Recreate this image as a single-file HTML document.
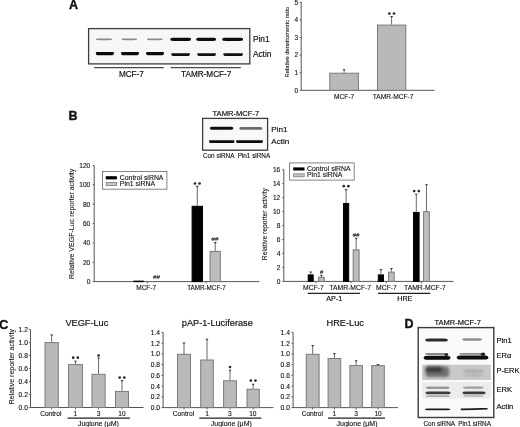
<!DOCTYPE html>
<html><head><meta charset="utf-8"><style>
html,body{margin:0;padding:0;background:#fff;overflow:hidden;}
svg{display:block;filter:grayscale(1) blur(0.3px);}
text{font-family:"Liberation Sans",sans-serif;}
</style></head><body>
<svg width="520" height="427" viewBox="0 0 520 427">
<defs>
<filter id="b4" x="-20%" y="-100%" width="140%" height="300%"><feGaussianBlur stdDeviation="0.4"/></filter>
<filter id="b6" x="-20%" y="-100%" width="140%" height="300%"><feGaussianBlur stdDeviation="0.6"/></filter>
<filter id="b1" x="-20%" y="-100%" width="140%" height="300%"><feGaussianBlur stdDeviation="1"/></filter>
<filter id="b15" x="-30%" y="-100%" width="160%" height="300%"><feGaussianBlur stdDeviation="1.6"/></filter>
</defs>
<rect x="0" y="0" width="520" height="427" fill="#fff"/>
<text x="69.00" y="8.77" font-size="12.5" text-anchor="start" font-weight="bold" fill="#111" stroke="#111" stroke-width="0.35">A</text>
<rect x="88.60" y="28.60" width="161.20" height="35.30" fill="#f7f7f7" stroke="#3d3d3d" stroke-width="1.3"/>
<path d="M96.00 39.30 C96.00 38.45 97.28 38.45 99.20 38.45 L108.80 38.45 C110.72 38.45 112.00 38.45 112.00 39.30 C112.00 40.15 110.72 40.15 108.80 40.15 L99.20 40.15 C97.28 40.15 96.00 40.15 96.00 39.30Z" fill="#8a8a8a"/>
<path d="M121.60 39.30 C121.60 38.45 122.88 38.45 124.80 38.45 L133.80 38.45 C135.72 38.45 137.00 38.45 137.00 39.30 C137.00 40.15 135.72 40.15 133.80 40.15 L124.80 40.15 C122.88 40.15 121.60 40.15 121.60 39.30Z" fill="#8a8a8a"/>
<path d="M147.00 39.30 C147.00 38.45 148.28 38.45 150.20 38.45 L159.40 38.45 C161.32 38.45 162.60 38.45 162.60 39.30 C162.60 40.15 161.32 40.15 159.40 40.15 L150.20 40.15 C148.28 40.15 147.00 40.15 147.00 39.30Z" fill="#8a8a8a"/>
<path d="M170.40 39.30 C170.40 37.70 171.68 37.70 173.60 37.70 L187.80 37.70 C189.72 37.70 191.00 37.70 191.00 39.30 C191.00 40.90 189.72 40.90 187.80 40.90 L173.60 40.90 C171.68 40.90 170.40 40.90 170.40 39.30Z" fill="#0c0c0c"/>
<path d="M196.30 39.30 C196.30 37.70 197.58 37.70 199.50 37.70 L212.80 37.70 C214.72 37.70 216.00 37.70 216.00 39.30 C216.00 40.90 214.72 40.90 212.80 40.90 L199.50 40.90 C197.58 40.90 196.30 40.90 196.30 39.30Z" fill="#0c0c0c"/>
<path d="M222.30 39.30 C222.30 37.70 223.58 37.70 225.50 37.70 L239.80 37.70 C241.72 37.70 243.00 37.70 243.00 39.30 C243.00 40.90 241.72 40.90 239.80 40.90 L225.50 40.90 C223.58 40.90 222.30 40.90 222.30 39.30Z" fill="#0c0c0c"/>
<path d="M95.80 52.70 C95.80 52.05 97.08 52.05 99.00 52.05 L110.80 52.05 C112.72 52.05 114.00 52.05 114.00 52.70 C114.00 55.15 112.72 55.15 110.80 55.15 L99.00 55.15 C97.08 55.15 95.80 55.15 95.80 52.70Z" fill="#0c0c0c"/>
<path d="M121.00 52.70 C121.00 52.05 122.28 52.05 124.20 52.05 L135.80 52.05 C137.72 52.05 139.00 52.05 139.00 52.70 C139.00 55.15 137.72 55.15 135.80 55.15 L124.20 55.15 C122.28 55.15 121.00 55.15 121.00 52.70Z" fill="#0c0c0c"/>
<path d="M146.00 52.70 C146.00 52.05 147.28 52.05 149.20 52.05 L160.80 52.05 C162.72 52.05 164.00 52.05 164.00 52.70 C164.00 55.15 162.72 55.15 160.80 55.15 L149.20 55.15 C147.28 55.15 146.00 55.15 146.00 52.70Z" fill="#0c0c0c"/>
<path d="M171.20 53.80 C171.20 53.20 172.48 53.20 174.40 53.20 L186.80 53.20 C188.72 53.20 190.00 53.20 190.00 53.80 C190.00 56.00 188.72 56.00 186.80 56.00 L174.40 56.00 C172.48 56.00 171.20 56.00 171.20 53.80Z" fill="#111"/>
<path d="M197.20 53.80 C197.20 53.20 198.48 53.20 200.40 53.20 L212.80 53.20 C214.72 53.20 216.00 53.20 216.00 53.80 C216.00 56.00 214.72 56.00 212.80 56.00 L200.40 56.00 C198.48 56.00 197.20 56.00 197.20 53.80Z" fill="#111"/>
<path d="M223.20 53.80 C223.20 53.20 224.48 53.20 226.40 53.20 L239.80 53.20 C241.72 53.20 243.00 53.20 243.00 53.80 C243.00 56.00 241.72 56.00 239.80 56.00 L226.40 56.00 C224.48 56.00 223.20 56.00 223.20 53.80Z" fill="#111"/>
<line x1="94.20" y1="67.60" x2="163.80" y2="67.60" stroke="#4a4a4a" stroke-width="1.1"/>
<line x1="170.60" y1="67.60" x2="240.80" y2="67.60" stroke="#4a4a4a" stroke-width="1.1"/>
<text x="131.40" y="76.74" font-size="8.2" text-anchor="middle" font-weight="normal" fill="#111" stroke="#111" stroke-width="0.18">MCF-7</text>
<text x="206.20" y="76.74" font-size="8.2" text-anchor="middle" font-weight="normal" fill="#111" stroke="#111" stroke-width="0.18">TAMR-MCF-7</text>
<text x="252.90" y="41.87" font-size="8.3" text-anchor="start" font-weight="normal" fill="#111" stroke="#111" stroke-width="0.18">Pin1</text>
<text x="252.90" y="57.27" font-size="8.3" text-anchor="start" font-weight="normal" fill="#111" stroke="#111" stroke-width="0.18">Actin</text>
<line x1="301.20" y1="1.90" x2="301.20" y2="90.30" stroke="#555" stroke-width="1"/>
<line x1="301.20" y1="90.30" x2="434.60" y2="90.30" stroke="#555" stroke-width="1"/>
<line x1="299.60" y1="90.30" x2="301.20" y2="90.30" stroke="#555" stroke-width="0.9"/>
<text x="298.20" y="92.63" font-size="6.5" text-anchor="end" font-weight="normal" fill="#111" stroke="#111" stroke-width="0.12">0</text>
<line x1="299.60" y1="72.72" x2="301.20" y2="72.72" stroke="#555" stroke-width="0.9"/>
<text x="298.20" y="75.05" font-size="6.5" text-anchor="end" font-weight="normal" fill="#111" stroke="#111" stroke-width="0.12">1</text>
<line x1="299.60" y1="55.14" x2="301.20" y2="55.14" stroke="#555" stroke-width="0.9"/>
<text x="298.20" y="57.47" font-size="6.5" text-anchor="end" font-weight="normal" fill="#111" stroke="#111" stroke-width="0.12">2</text>
<line x1="299.60" y1="37.56" x2="301.20" y2="37.56" stroke="#555" stroke-width="0.9"/>
<text x="298.20" y="39.89" font-size="6.5" text-anchor="end" font-weight="normal" fill="#111" stroke="#111" stroke-width="0.12">3</text>
<line x1="299.60" y1="19.98" x2="301.20" y2="19.98" stroke="#555" stroke-width="0.9"/>
<text x="298.20" y="22.31" font-size="6.5" text-anchor="end" font-weight="normal" fill="#111" stroke="#111" stroke-width="0.12">4</text>
<line x1="299.60" y1="2.40" x2="301.20" y2="2.40" stroke="#555" stroke-width="0.9"/>
<text x="298.20" y="4.73" font-size="6.5" text-anchor="end" font-weight="normal" fill="#111" stroke="#111" stroke-width="0.12">5</text>
<rect x="329.80" y="73.22" width="28.60" height="17.08" fill="#b9b9b9" stroke="#7a7a7a" stroke-width="1"/>
<line x1="344.10" y1="69.40" x2="344.10" y2="72.72" stroke="#444" stroke-width="0.8"/>
<path d="M342.55 68.90 L345.65 68.90 L344.50 70.40 L343.70 70.40Z" fill="#444"/>
<rect x="377.50" y="25.10" width="28.30" height="65.20" fill="#b9b9b9" stroke="#7a7a7a" stroke-width="1"/>
<line x1="391.60" y1="16.60" x2="391.60" y2="24.60" stroke="#444" stroke-width="0.8"/>
<path d="M389.80 16.10 L393.40 16.10 L392.00 17.60 L391.20 17.60Z" fill="#444"/>
<circle cx="389.40" cy="13.50" r="1.35" fill="#2a2a2a"/>
<circle cx="394.00" cy="13.50" r="1.35" fill="#2a2a2a"/>
<text x="344.00" y="98.66" font-size="6.6" text-anchor="middle" font-weight="normal" fill="#111" stroke="#111" stroke-width="0.12">MCF-7</text>
<text x="393.10" y="98.66" font-size="6.6" text-anchor="middle" font-weight="normal" fill="#111" stroke="#111" stroke-width="0.12">TAMR-MCF-7</text>
<text x="0" y="0" font-size="5.85" text-anchor="middle" fill="#111" stroke="#111" stroke-width="0.08" transform="translate(289.09,42.20) rotate(-90)">Relative densitometric ratio</text>
<text x="68.60" y="119.77" font-size="12.5" text-anchor="start" font-weight="bold" fill="#111" stroke="#111" stroke-width="0.35">B</text>
<text x="235.90" y="116.22" font-size="7.6" text-anchor="middle" font-weight="normal" fill="#111" stroke="#111" stroke-width="0.18">TAMR-MCF-7</text>
<rect x="202.60" y="118.40" width="65.00" height="31.80" fill="#f8f8f8" stroke="#3d3d3d" stroke-width="1.3"/>
<path d="M209.90 128.30 C209.90 126.80 211.18 126.80 213.10 126.80 L230.10 126.80 C232.02 126.80 233.30 126.80 233.30 128.30 C233.30 129.80 232.02 129.80 230.10 129.80 L213.10 129.80 C211.18 129.80 209.90 129.80 209.90 128.30Z" fill="#0c0c0c"/>
<path d="M239.40 128.40 C239.40 127.10 240.68 127.10 242.60 127.10 L259.10 127.10 C261.02 127.10 262.30 127.10 262.30 128.40 C262.30 129.70 261.02 129.70 259.10 129.70 L242.60 129.70 C240.68 129.70 239.40 129.70 239.40 128.40Z" fill="#6a6a6a"/>
<path d="M209.00 140.90 C209.00 140.15 210.28 140.15 212.20 140.15 L231.30 140.15 C233.22 140.15 234.50 140.15 234.50 140.90 C234.50 143.05 233.22 143.05 231.30 143.05 L212.20 143.05 C210.28 143.05 209.00 143.05 209.00 140.90Z" fill="#0c0c0c"/>
<path d="M236.00 140.90 C236.00 140.15 237.28 140.15 239.20 140.15 L259.80 140.15 C261.72 140.15 263.00 140.15 263.00 140.90 C263.00 143.05 261.72 143.05 259.80 143.05 L239.20 143.05 C237.28 143.05 236.00 143.05 236.00 140.90Z" fill="#0c0c0c"/>
<text x="271.30" y="131.90" font-size="8.1" text-anchor="start" font-weight="normal" fill="#111" stroke="#111" stroke-width="0.18">Pin1</text>
<text x="271.30" y="144.20" font-size="8.1" text-anchor="start" font-weight="normal" fill="#111" stroke="#111" stroke-width="0.18">Actin</text>
<text x="203.00" y="158.27" font-size="6.35" text-anchor="start" font-weight="normal" fill="#111" stroke="#111" stroke-width="0.12">Con siRNA</text>
<text x="237.70" y="158.27" font-size="6.35" text-anchor="start" font-weight="normal" fill="#111" stroke="#111" stroke-width="0.12">Pin1 siRNA</text>
<line x1="94.20" y1="165.40" x2="94.20" y2="281.60" stroke="#555" stroke-width="1"/>
<line x1="94.20" y1="281.60" x2="259.30" y2="281.60" stroke="#555" stroke-width="1"/>
<line x1="92.60" y1="281.60" x2="94.20" y2="281.60" stroke="#555" stroke-width="0.9"/>
<text x="90.30" y="283.96" font-size="6.6" text-anchor="end" font-weight="normal" fill="#111" stroke="#111" stroke-width="0.12">0</text>
<line x1="92.60" y1="262.23" x2="94.20" y2="262.23" stroke="#555" stroke-width="0.9"/>
<text x="90.30" y="264.60" font-size="6.6" text-anchor="end" font-weight="normal" fill="#111" stroke="#111" stroke-width="0.12">20</text>
<line x1="92.60" y1="242.87" x2="94.20" y2="242.87" stroke="#555" stroke-width="0.9"/>
<text x="90.30" y="245.23" font-size="6.6" text-anchor="end" font-weight="normal" fill="#111" stroke="#111" stroke-width="0.12">40</text>
<line x1="92.60" y1="223.50" x2="94.20" y2="223.50" stroke="#555" stroke-width="0.9"/>
<text x="90.30" y="225.86" font-size="6.6" text-anchor="end" font-weight="normal" fill="#111" stroke="#111" stroke-width="0.12">60</text>
<line x1="92.60" y1="204.13" x2="94.20" y2="204.13" stroke="#555" stroke-width="0.9"/>
<text x="90.30" y="206.50" font-size="6.6" text-anchor="end" font-weight="normal" fill="#111" stroke="#111" stroke-width="0.12">80</text>
<line x1="92.60" y1="184.77" x2="94.20" y2="184.77" stroke="#555" stroke-width="0.9"/>
<text x="90.30" y="187.13" font-size="6.6" text-anchor="end" font-weight="normal" fill="#111" stroke="#111" stroke-width="0.12">100</text>
<line x1="92.60" y1="165.40" x2="94.20" y2="165.40" stroke="#555" stroke-width="0.9"/>
<text x="90.30" y="167.76" font-size="6.6" text-anchor="end" font-weight="normal" fill="#111" stroke="#111" stroke-width="0.12">120</text>
<rect x="102.50" y="171.50" width="64.40" height="17.70" fill="#fff" stroke="#777" stroke-width="0.9"/>
<rect x="105.80" y="176.20" width="11.10" height="3.20" fill="#000" stroke="none" stroke-width="1"/>
<rect x="106.20" y="182.60" width="10.40" height="2.80" fill="#c8c8c8" stroke="#777" stroke-width="0.8"/>
<text x="119.80" y="179.67" font-size="6.9" text-anchor="start" font-weight="normal" fill="#111" stroke="#111" stroke-width="0.12">Control siRNA</text>
<text x="119.80" y="186.17" font-size="6.9" text-anchor="start" font-weight="normal" fill="#111" stroke="#111" stroke-width="0.12">Pin1 siRNA</text>
<rect x="134.00" y="281.13" width="9.30" height="0.47" fill="#000" stroke="#000" stroke-width="1"/>
<rect x="152.00" y="281.81" width="8.70" height="-0.21" fill="#bdbdbd" stroke="#777" stroke-width="1"/>
<text x="156.50" y="279.42" font-size="6.2" text-anchor="middle" font-weight="normal" fill="#333" stroke="#333" stroke-width="0.15">##</text>
<rect x="192.10" y="206.30" width="10.40" height="75.30" fill="#000" stroke="#000" stroke-width="1"/>
<line x1="197.30" y1="186.20" x2="197.30" y2="205.80" stroke="#444" stroke-width="0.8"/>
<path d="M195.50 185.70 L199.10 185.70 L197.70 187.20 L196.90 187.20Z" fill="#444"/>
<circle cx="195.00" cy="183.50" r="1.35" fill="#2a2a2a"/>
<circle cx="199.60" cy="183.50" r="1.35" fill="#2a2a2a"/>
<rect x="210.10" y="251.40" width="10.20" height="30.20" fill="#bdbdbd" stroke="#777" stroke-width="1"/>
<line x1="215.20" y1="242.50" x2="215.20" y2="250.90" stroke="#444" stroke-width="0.8"/>
<path d="M213.40 242.00 L217.00 242.00 L215.60 243.50 L214.80 243.50Z" fill="#444"/>
<text x="215.00" y="240.62" font-size="6.2" text-anchor="middle" font-weight="normal" fill="#333" stroke="#333" stroke-width="0.15">##</text>
<line x1="147.40" y1="281.60" x2="147.40" y2="283.60" stroke="#555" stroke-width="0.9"/>
<line x1="206.20" y1="281.60" x2="206.20" y2="283.60" stroke="#555" stroke-width="0.9"/>
<text x="146.20" y="290.33" font-size="6.5" text-anchor="middle" font-weight="normal" fill="#111" stroke="#111" stroke-width="0.12">MCF-7</text>
<text x="206.50" y="290.26" font-size="6.3" text-anchor="middle" font-weight="normal" fill="#111" stroke="#111" stroke-width="0.12">TAMR-MCF-7</text>
<text x="0" y="0" font-size="7.05" text-anchor="middle" fill="#111" stroke="#111" stroke-width="0.08" transform="translate(73.92,223.90) rotate(-90)">Relative VEGF-Luc reporter activity</text>
<line x1="283.80" y1="169.60" x2="283.80" y2="281.40" stroke="#555" stroke-width="1"/>
<line x1="283.80" y1="281.40" x2="453.50" y2="281.40" stroke="#555" stroke-width="1"/>
<line x1="282.20" y1="281.40" x2="283.80" y2="281.40" stroke="#555" stroke-width="0.9"/>
<text x="280.30" y="283.76" font-size="6.6" text-anchor="end" font-weight="normal" fill="#111" stroke="#111" stroke-width="0.12">0</text>
<line x1="282.20" y1="267.42" x2="283.80" y2="267.42" stroke="#555" stroke-width="0.9"/>
<text x="280.30" y="269.79" font-size="6.6" text-anchor="end" font-weight="normal" fill="#111" stroke="#111" stroke-width="0.12">2</text>
<line x1="282.20" y1="253.45" x2="283.80" y2="253.45" stroke="#555" stroke-width="0.9"/>
<text x="280.30" y="255.81" font-size="6.6" text-anchor="end" font-weight="normal" fill="#111" stroke="#111" stroke-width="0.12">4</text>
<line x1="282.20" y1="239.47" x2="283.80" y2="239.47" stroke="#555" stroke-width="0.9"/>
<text x="280.30" y="241.84" font-size="6.6" text-anchor="end" font-weight="normal" fill="#111" stroke="#111" stroke-width="0.12">6</text>
<line x1="282.20" y1="225.50" x2="283.80" y2="225.50" stroke="#555" stroke-width="0.9"/>
<text x="280.30" y="227.86" font-size="6.6" text-anchor="end" font-weight="normal" fill="#111" stroke="#111" stroke-width="0.12">8</text>
<line x1="282.20" y1="211.52" x2="283.80" y2="211.52" stroke="#555" stroke-width="0.9"/>
<text x="280.30" y="213.89" font-size="6.6" text-anchor="end" font-weight="normal" fill="#111" stroke="#111" stroke-width="0.12">10</text>
<line x1="282.20" y1="197.55" x2="283.80" y2="197.55" stroke="#555" stroke-width="0.9"/>
<text x="280.30" y="199.91" font-size="6.6" text-anchor="end" font-weight="normal" fill="#111" stroke="#111" stroke-width="0.12">12</text>
<line x1="282.20" y1="183.57" x2="283.80" y2="183.57" stroke="#555" stroke-width="0.9"/>
<text x="280.30" y="185.94" font-size="6.6" text-anchor="end" font-weight="normal" fill="#111" stroke="#111" stroke-width="0.12">14</text>
<line x1="282.20" y1="169.60" x2="283.80" y2="169.60" stroke="#555" stroke-width="0.9"/>
<text x="280.30" y="171.96" font-size="6.6" text-anchor="end" font-weight="normal" fill="#111" stroke="#111" stroke-width="0.12">16</text>
<rect x="289.60" y="162.90" width="64.60" height="17.20" fill="#fff" stroke="#777" stroke-width="0.9"/>
<rect x="293.20" y="167.40" width="11.30" height="3.10" fill="#000" stroke="none" stroke-width="1"/>
<rect x="293.60" y="173.90" width="10.60" height="2.90" fill="#c8c8c8" stroke="#777" stroke-width="0.8"/>
<text x="307.00" y="171.07" font-size="6.9" text-anchor="start" font-weight="normal" fill="#111" stroke="#111" stroke-width="0.12">Control siRNA</text>
<text x="307.00" y="177.47" font-size="6.9" text-anchor="start" font-weight="normal" fill="#111" stroke="#111" stroke-width="0.12">Pin1 siRNA</text>
<rect x="308.20" y="274.91" width="5.00" height="6.49" fill="#000" stroke="#000" stroke-width="1"/>
<line x1="310.70" y1="272.00" x2="310.70" y2="274.41" stroke="#444" stroke-width="0.8"/>
<path d="M309.10 271.50 L312.30 271.50 L311.10 273.00 L310.30 273.00Z" fill="#444"/>
<rect x="318.60" y="277.22" width="5.60" height="4.18" fill="#bdbdbd" stroke="#777" stroke-width="1"/>
<line x1="321.40" y1="275.30" x2="321.40" y2="276.72" stroke="#444" stroke-width="0.8"/>
<path d="M319.80 274.80 L323.00 274.80 L321.80 276.30 L321.00 276.30Z" fill="#444"/>
<text x="321.50" y="274.08" font-size="5.8" text-anchor="middle" font-weight="normal" fill="#333" stroke="#333" stroke-width="0.15">#</text>
<rect x="343.50" y="203.50" width="5.20" height="77.90" fill="#000" stroke="#000" stroke-width="1"/>
<line x1="346.10" y1="189.60" x2="346.10" y2="203.00" stroke="#444" stroke-width="0.8"/>
<path d="M344.50 189.10 L347.70 189.10 L346.50 190.60 L345.70 190.60Z" fill="#444"/>
<circle cx="343.80" cy="186.20" r="1.35" fill="#2a2a2a"/>
<circle cx="348.40" cy="186.20" r="1.35" fill="#2a2a2a"/>
<rect x="353.20" y="249.90" width="5.90" height="31.50" fill="#bdbdbd" stroke="#777" stroke-width="1"/>
<line x1="356.15" y1="238.30" x2="356.15" y2="249.40" stroke="#444" stroke-width="0.8"/>
<path d="M354.55 237.80 L357.75 237.80 L356.55 239.30 L355.75 239.30Z" fill="#444"/>
<text x="356.10" y="237.42" font-size="6.2" text-anchor="middle" font-weight="normal" fill="#333" stroke="#333" stroke-width="0.15">##</text>
<rect x="378.30" y="274.91" width="5.20" height="6.49" fill="#000" stroke="#000" stroke-width="1"/>
<line x1="380.90" y1="269.40" x2="380.90" y2="274.41" stroke="#444" stroke-width="0.8"/>
<path d="M379.30 268.90 L382.50 268.90 L381.30 270.40 L380.50 270.40Z" fill="#444"/>
<rect x="388.60" y="272.12" width="5.60" height="9.28" fill="#bdbdbd" stroke="#777" stroke-width="1"/>
<line x1="391.40" y1="268.40" x2="391.40" y2="271.62" stroke="#444" stroke-width="0.8"/>
<path d="M389.80 267.90 L393.00 267.90 L391.80 269.40 L391.00 269.40Z" fill="#444"/>
<rect x="413.50" y="212.40" width="5.60" height="69.00" fill="#000" stroke="#000" stroke-width="1"/>
<line x1="416.30" y1="194.20" x2="416.30" y2="211.90" stroke="#444" stroke-width="0.8"/>
<path d="M414.70 193.70 L417.90 193.70 L416.70 195.20 L415.90 195.20Z" fill="#444"/>
<circle cx="414.20" cy="191.10" r="1.35" fill="#2a2a2a"/>
<circle cx="418.80" cy="191.10" r="1.35" fill="#2a2a2a"/>
<rect x="423.60" y="211.70" width="5.70" height="69.70" fill="#bdbdbd" stroke="#777" stroke-width="1"/>
<line x1="426.45" y1="184.70" x2="426.45" y2="211.20" stroke="#444" stroke-width="0.8"/>
<path d="M424.85 184.20 L428.05 184.20 L426.85 185.70 L426.05 185.70Z" fill="#444"/>
<line x1="316.00" y1="281.40" x2="316.00" y2="283.40" stroke="#555" stroke-width="0.9"/>
<line x1="350.90" y1="281.40" x2="350.90" y2="283.40" stroke="#555" stroke-width="0.9"/>
<line x1="386.30" y1="281.40" x2="386.30" y2="283.40" stroke="#555" stroke-width="0.9"/>
<line x1="421.40" y1="281.40" x2="421.40" y2="283.40" stroke="#555" stroke-width="0.9"/>
<text x="313.50" y="290.03" font-size="6.8" text-anchor="middle" font-weight="normal" fill="#111" stroke="#111" stroke-width="0.12">MCF-7</text>
<text x="350.20" y="290.03" font-size="6.8" text-anchor="middle" font-weight="normal" fill="#111" stroke="#111" stroke-width="0.12">TAMR-MCF-7</text>
<text x="386.50" y="290.03" font-size="6.8" text-anchor="middle" font-weight="normal" fill="#111" stroke="#111" stroke-width="0.12">MCF-7</text>
<text x="424.90" y="290.03" font-size="6.8" text-anchor="middle" font-weight="normal" fill="#111" stroke="#111" stroke-width="0.12">TAMR-MCF-7</text>
<line x1="307.70" y1="293.40" x2="360.00" y2="293.40" stroke="#222" stroke-width="1.1"/>
<line x1="377.80" y1="293.40" x2="430.30" y2="293.40" stroke="#222" stroke-width="1.1"/>
<text x="334.20" y="301.18" font-size="7.2" text-anchor="middle" font-weight="normal" fill="#111" stroke="#111" stroke-width="0.18">AP-1</text>
<text x="404.80" y="301.38" font-size="7.2" text-anchor="middle" font-weight="normal" fill="#111" stroke="#111" stroke-width="0.18">HRE</text>
<text x="0" y="0" font-size="6.73" text-anchor="middle" fill="#111" stroke="#111" stroke-width="0.08" transform="translate(267.41,224.10) rotate(-90)">Relative reporter activity</text>
<text x="-1.00" y="328.65" font-size="13.0" text-anchor="start" font-weight="bold" fill="#111" stroke="#111" stroke-width="0.35">C</text>
<line x1="30.50" y1="329.40" x2="30.50" y2="407.50" stroke="#555" stroke-width="1"/>
<line x1="30.50" y1="407.50" x2="143.50" y2="407.50" stroke="#555" stroke-width="1"/>
<line x1="28.90" y1="407.50" x2="30.50" y2="407.50" stroke="#555" stroke-width="0.9"/>
<text x="27.90" y="409.90" font-size="6.7" text-anchor="end" font-weight="normal" fill="#111" stroke="#111" stroke-width="0.12">0.0</text>
<line x1="28.90" y1="394.48" x2="30.50" y2="394.48" stroke="#555" stroke-width="0.9"/>
<text x="27.90" y="396.88" font-size="6.7" text-anchor="end" font-weight="normal" fill="#111" stroke="#111" stroke-width="0.12">0.2</text>
<line x1="28.90" y1="381.47" x2="30.50" y2="381.47" stroke="#555" stroke-width="0.9"/>
<text x="27.90" y="383.87" font-size="6.7" text-anchor="end" font-weight="normal" fill="#111" stroke="#111" stroke-width="0.12">0.4</text>
<line x1="28.90" y1="368.45" x2="30.50" y2="368.45" stroke="#555" stroke-width="0.9"/>
<text x="27.90" y="370.85" font-size="6.7" text-anchor="end" font-weight="normal" fill="#111" stroke="#111" stroke-width="0.12">0.6</text>
<line x1="28.90" y1="355.43" x2="30.50" y2="355.43" stroke="#555" stroke-width="0.9"/>
<text x="27.90" y="357.83" font-size="6.7" text-anchor="end" font-weight="normal" fill="#111" stroke="#111" stroke-width="0.12">0.8</text>
<line x1="28.90" y1="342.42" x2="30.50" y2="342.42" stroke="#555" stroke-width="0.9"/>
<text x="27.90" y="344.82" font-size="6.7" text-anchor="end" font-weight="normal" fill="#111" stroke="#111" stroke-width="0.12">1.0</text>
<line x1="28.90" y1="329.40" x2="30.50" y2="329.40" stroke="#555" stroke-width="0.9"/>
<text x="27.90" y="331.80" font-size="6.7" text-anchor="end" font-weight="normal" fill="#111" stroke="#111" stroke-width="0.12">1.2</text>
<rect x="45.00" y="342.60" width="13.30" height="64.90" fill="#b9b9b9" stroke="#7a7a7a" stroke-width="1"/>
<line x1="51.65" y1="334.90" x2="51.65" y2="342.10" stroke="#444" stroke-width="0.8"/>
<path d="M50.05 334.40 L53.25 334.40 L52.05 335.90 L51.25 335.90Z" fill="#444"/>
<line x1="51.65" y1="407.50" x2="51.65" y2="409.50" stroke="#555" stroke-width="0.9"/>
<rect x="68.60" y="364.60" width="13.80" height="42.90" fill="#b9b9b9" stroke="#7a7a7a" stroke-width="1"/>
<line x1="75.50" y1="361.20" x2="75.50" y2="364.10" stroke="#444" stroke-width="0.8"/>
<path d="M73.90 360.70 L77.10 360.70 L75.90 362.20 L75.10 362.20Z" fill="#444"/>
<line x1="75.50" y1="407.50" x2="75.50" y2="409.50" stroke="#555" stroke-width="0.9"/>
<circle cx="73.20" cy="357.70" r="1.35" fill="#2a2a2a"/>
<circle cx="77.80" cy="357.70" r="1.35" fill="#2a2a2a"/>
<rect x="92.00" y="374.30" width="13.10" height="33.20" fill="#b9b9b9" stroke="#7a7a7a" stroke-width="1"/>
<line x1="98.55" y1="358.10" x2="98.55" y2="373.80" stroke="#444" stroke-width="0.8"/>
<path d="M96.95 357.60 L100.15 357.60 L98.95 359.10 L98.15 359.10Z" fill="#444"/>
<line x1="98.55" y1="407.50" x2="98.55" y2="409.50" stroke="#555" stroke-width="0.9"/>
<circle cx="98.55" cy="355.50" r="1.35" fill="#2a2a2a"/>
<rect x="115.50" y="391.40" width="13.00" height="16.10" fill="#b9b9b9" stroke="#7a7a7a" stroke-width="1"/>
<line x1="122.00" y1="380.60" x2="122.00" y2="390.90" stroke="#444" stroke-width="0.8"/>
<path d="M120.40 380.10 L123.60 380.10 L122.40 381.60 L121.60 381.60Z" fill="#444"/>
<line x1="122.00" y1="407.50" x2="122.00" y2="409.50" stroke="#555" stroke-width="0.9"/>
<circle cx="119.70" cy="377.60" r="1.35" fill="#2a2a2a"/>
<circle cx="124.30" cy="377.60" r="1.35" fill="#2a2a2a"/>
<text x="50.80" y="415.86" font-size="6.6" text-anchor="middle" font-weight="normal" fill="#111" stroke="#111" stroke-width="0.12">Control</text>
<text x="75.40" y="415.86" font-size="6.6" text-anchor="middle" font-weight="normal" fill="#111" stroke="#111" stroke-width="0.12">1</text>
<text x="98.50" y="415.86" font-size="6.6" text-anchor="middle" font-weight="normal" fill="#111" stroke="#111" stroke-width="0.12">3</text>
<text x="121.90" y="415.86" font-size="6.6" text-anchor="middle" font-weight="normal" fill="#111" stroke="#111" stroke-width="0.12">10</text>
<line x1="67.60" y1="418.10" x2="129.90" y2="418.10" stroke="#222" stroke-width="1.1"/>
<text x="98.40" y="425.91" font-size="7.0" text-anchor="middle" font-weight="normal" fill="#111" stroke="#111" stroke-width="0.12">Juglone (&#956;M)</text>
<text x="65.40" y="325.89" font-size="9.2" text-anchor="start" font-weight="normal" fill="#111" stroke="#111" stroke-width="0.18">VEGF-Luc</text>
<line x1="163.10" y1="332.50" x2="163.10" y2="407.60" stroke="#555" stroke-width="1"/>
<line x1="163.10" y1="407.60" x2="273.50" y2="407.60" stroke="#555" stroke-width="1"/>
<line x1="161.50" y1="407.60" x2="163.10" y2="407.60" stroke="#555" stroke-width="0.9"/>
<text x="160.00" y="410.00" font-size="6.7" text-anchor="end" font-weight="normal" fill="#111" stroke="#111" stroke-width="0.12">0.0</text>
<line x1="161.50" y1="396.87" x2="163.10" y2="396.87" stroke="#555" stroke-width="0.9"/>
<text x="160.00" y="399.27" font-size="6.7" text-anchor="end" font-weight="normal" fill="#111" stroke="#111" stroke-width="0.12">0.2</text>
<line x1="161.50" y1="386.14" x2="163.10" y2="386.14" stroke="#555" stroke-width="0.9"/>
<text x="160.00" y="388.54" font-size="6.7" text-anchor="end" font-weight="normal" fill="#111" stroke="#111" stroke-width="0.12">0.4</text>
<line x1="161.50" y1="375.41" x2="163.10" y2="375.41" stroke="#555" stroke-width="0.9"/>
<text x="160.00" y="377.81" font-size="6.7" text-anchor="end" font-weight="normal" fill="#111" stroke="#111" stroke-width="0.12">0.6</text>
<line x1="161.50" y1="364.69" x2="163.10" y2="364.69" stroke="#555" stroke-width="0.9"/>
<text x="160.00" y="367.08" font-size="6.7" text-anchor="end" font-weight="normal" fill="#111" stroke="#111" stroke-width="0.12">0.8</text>
<line x1="161.50" y1="353.96" x2="163.10" y2="353.96" stroke="#555" stroke-width="0.9"/>
<text x="160.00" y="356.36" font-size="6.7" text-anchor="end" font-weight="normal" fill="#111" stroke="#111" stroke-width="0.12">1.0</text>
<line x1="161.50" y1="343.23" x2="163.10" y2="343.23" stroke="#555" stroke-width="0.9"/>
<text x="160.00" y="345.63" font-size="6.7" text-anchor="end" font-weight="normal" fill="#111" stroke="#111" stroke-width="0.12">1.2</text>
<line x1="161.50" y1="332.50" x2="163.10" y2="332.50" stroke="#555" stroke-width="0.9"/>
<text x="160.00" y="334.90" font-size="6.7" text-anchor="end" font-weight="normal" fill="#111" stroke="#111" stroke-width="0.12">1.4</text>
<rect x="177.50" y="354.30" width="13.00" height="53.30" fill="#b9b9b9" stroke="#7a7a7a" stroke-width="1"/>
<line x1="184.00" y1="343.10" x2="184.00" y2="353.80" stroke="#444" stroke-width="0.8"/>
<path d="M182.40 342.60 L185.60 342.60 L184.40 344.10 L183.60 344.10Z" fill="#444"/>
<line x1="184.00" y1="407.60" x2="184.00" y2="409.60" stroke="#555" stroke-width="0.9"/>
<rect x="200.70" y="360.00" width="12.60" height="47.60" fill="#b9b9b9" stroke="#7a7a7a" stroke-width="1"/>
<line x1="207.00" y1="339.30" x2="207.00" y2="359.50" stroke="#444" stroke-width="0.8"/>
<path d="M205.40 338.80 L208.60 338.80 L207.40 340.30 L206.60 340.30Z" fill="#444"/>
<line x1="207.00" y1="407.60" x2="207.00" y2="409.60" stroke="#555" stroke-width="0.9"/>
<rect x="223.60" y="380.80" width="12.80" height="26.80" fill="#b9b9b9" stroke="#7a7a7a" stroke-width="1"/>
<line x1="230.00" y1="370.20" x2="230.00" y2="380.30" stroke="#444" stroke-width="0.8"/>
<path d="M228.40 369.70 L231.60 369.70 L230.40 371.20 L229.60 371.20Z" fill="#444"/>
<line x1="230.00" y1="407.60" x2="230.00" y2="409.60" stroke="#555" stroke-width="0.9"/>
<circle cx="230.00" cy="367.10" r="1.35" fill="#2a2a2a"/>
<rect x="247.00" y="389.20" width="12.30" height="18.40" fill="#b9b9b9" stroke="#7a7a7a" stroke-width="1"/>
<line x1="253.15" y1="384.20" x2="253.15" y2="388.70" stroke="#444" stroke-width="0.8"/>
<path d="M251.55 383.70 L254.75 383.70 L253.55 385.20 L252.75 385.20Z" fill="#444"/>
<line x1="253.15" y1="407.60" x2="253.15" y2="409.60" stroke="#555" stroke-width="0.9"/>
<circle cx="250.85" cy="380.60" r="1.35" fill="#2a2a2a"/>
<circle cx="255.45" cy="380.60" r="1.35" fill="#2a2a2a"/>
<text x="183.50" y="415.86" font-size="6.6" text-anchor="middle" font-weight="normal" fill="#111" stroke="#111" stroke-width="0.12">Control</text>
<text x="207.10" y="415.86" font-size="6.6" text-anchor="middle" font-weight="normal" fill="#111" stroke="#111" stroke-width="0.12">1</text>
<text x="229.90" y="415.86" font-size="6.6" text-anchor="middle" font-weight="normal" fill="#111" stroke="#111" stroke-width="0.12">3</text>
<text x="252.80" y="415.86" font-size="6.6" text-anchor="middle" font-weight="normal" fill="#111" stroke="#111" stroke-width="0.12">10</text>
<line x1="199.30" y1="418.10" x2="261.30" y2="418.10" stroke="#222" stroke-width="1.1"/>
<text x="231.30" y="425.91" font-size="7.0" text-anchor="middle" font-weight="normal" fill="#111" stroke="#111" stroke-width="0.12">Juglone (&#956;M)</text>
<text x="181.80" y="325.89" font-size="9.2" text-anchor="start" font-weight="normal" fill="#111" stroke="#111" stroke-width="0.18">pAP-1-Luciferase</text>
<line x1="293.10" y1="332.50" x2="293.10" y2="407.60" stroke="#555" stroke-width="1"/>
<line x1="293.10" y1="407.60" x2="398.00" y2="407.60" stroke="#555" stroke-width="1"/>
<line x1="291.50" y1="407.60" x2="293.10" y2="407.60" stroke="#555" stroke-width="0.9"/>
<text x="289.90" y="410.00" font-size="6.7" text-anchor="end" font-weight="normal" fill="#111" stroke="#111" stroke-width="0.12">0.0</text>
<line x1="291.50" y1="396.87" x2="293.10" y2="396.87" stroke="#555" stroke-width="0.9"/>
<text x="289.90" y="399.27" font-size="6.7" text-anchor="end" font-weight="normal" fill="#111" stroke="#111" stroke-width="0.12">0.2</text>
<line x1="291.50" y1="386.14" x2="293.10" y2="386.14" stroke="#555" stroke-width="0.9"/>
<text x="289.90" y="388.54" font-size="6.7" text-anchor="end" font-weight="normal" fill="#111" stroke="#111" stroke-width="0.12">0.4</text>
<line x1="291.50" y1="375.41" x2="293.10" y2="375.41" stroke="#555" stroke-width="0.9"/>
<text x="289.90" y="377.81" font-size="6.7" text-anchor="end" font-weight="normal" fill="#111" stroke="#111" stroke-width="0.12">0.6</text>
<line x1="291.50" y1="364.69" x2="293.10" y2="364.69" stroke="#555" stroke-width="0.9"/>
<text x="289.90" y="367.08" font-size="6.7" text-anchor="end" font-weight="normal" fill="#111" stroke="#111" stroke-width="0.12">0.8</text>
<line x1="291.50" y1="353.96" x2="293.10" y2="353.96" stroke="#555" stroke-width="0.9"/>
<text x="289.90" y="356.36" font-size="6.7" text-anchor="end" font-weight="normal" fill="#111" stroke="#111" stroke-width="0.12">1.0</text>
<line x1="291.50" y1="343.23" x2="293.10" y2="343.23" stroke="#555" stroke-width="0.9"/>
<text x="289.90" y="345.63" font-size="6.7" text-anchor="end" font-weight="normal" fill="#111" stroke="#111" stroke-width="0.12">1.2</text>
<line x1="291.50" y1="332.50" x2="293.10" y2="332.50" stroke="#555" stroke-width="0.9"/>
<text x="289.90" y="334.90" font-size="6.7" text-anchor="end" font-weight="normal" fill="#111" stroke="#111" stroke-width="0.12">1.4</text>
<rect x="306.30" y="354.30" width="12.80" height="53.30" fill="#b9b9b9" stroke="#7a7a7a" stroke-width="1"/>
<line x1="312.70" y1="345.40" x2="312.70" y2="353.80" stroke="#444" stroke-width="0.8"/>
<path d="M311.10 344.90 L314.30 344.90 L313.10 346.40 L312.30 346.40Z" fill="#444"/>
<line x1="312.70" y1="407.60" x2="312.70" y2="409.60" stroke="#555" stroke-width="0.9"/>
<rect x="328.10" y="358.50" width="12.60" height="49.10" fill="#b9b9b9" stroke="#7a7a7a" stroke-width="1"/>
<line x1="334.40" y1="353.40" x2="334.40" y2="358.00" stroke="#444" stroke-width="0.8"/>
<path d="M332.80 352.90 L336.00 352.90 L334.80 354.40 L334.00 354.40Z" fill="#444"/>
<line x1="334.40" y1="407.60" x2="334.40" y2="409.60" stroke="#555" stroke-width="0.9"/>
<rect x="349.90" y="365.60" width="12.50" height="42.00" fill="#b9b9b9" stroke="#7a7a7a" stroke-width="1"/>
<line x1="356.15" y1="360.80" x2="356.15" y2="365.10" stroke="#444" stroke-width="0.8"/>
<path d="M354.55 360.30 L357.75 360.30 L356.55 361.80 L355.75 361.80Z" fill="#444"/>
<line x1="356.15" y1="407.60" x2="356.15" y2="409.60" stroke="#555" stroke-width="0.9"/>
<rect x="371.70" y="365.60" width="12.60" height="42.00" fill="#b9b9b9" stroke="#7a7a7a" stroke-width="1"/>
<line x1="378.00" y1="364.60" x2="378.00" y2="365.10" stroke="#444" stroke-width="0.8"/>
<path d="M376.40 364.10 L379.60 364.10 L378.40 365.60 L377.60 365.60Z" fill="#444"/>
<line x1="378.00" y1="407.60" x2="378.00" y2="409.60" stroke="#555" stroke-width="0.9"/>
<text x="312.30" y="415.86" font-size="6.6" text-anchor="middle" font-weight="normal" fill="#111" stroke="#111" stroke-width="0.12">Control</text>
<text x="334.30" y="415.86" font-size="6.6" text-anchor="middle" font-weight="normal" fill="#111" stroke="#111" stroke-width="0.12">1</text>
<text x="356.20" y="415.86" font-size="6.6" text-anchor="middle" font-weight="normal" fill="#111" stroke="#111" stroke-width="0.12">3</text>
<text x="378.10" y="415.86" font-size="6.6" text-anchor="middle" font-weight="normal" fill="#111" stroke="#111" stroke-width="0.12">10</text>
<line x1="328.00" y1="418.10" x2="385.00" y2="418.10" stroke="#222" stroke-width="1.1"/>
<text x="357.00" y="425.91" font-size="7.0" text-anchor="middle" font-weight="normal" fill="#111" stroke="#111" stroke-width="0.12">Juglone (&#956;M)</text>
<text x="326.60" y="325.89" font-size="9.2" text-anchor="start" font-weight="normal" fill="#111" stroke="#111" stroke-width="0.18">HRE-Luc</text>
<text x="0" y="0" font-size="7.03" text-anchor="middle" fill="#111" stroke="#111" stroke-width="0.08" transform="translate(13.92,366.60) rotate(-90)">Relative reporter activity</text>
<text x="404.60" y="328.38" font-size="12.5" text-anchor="start" font-weight="bold" fill="#111" stroke="#111" stroke-width="0.35">D</text>
<text x="457.70" y="325.00" font-size="7.55" text-anchor="middle" font-weight="normal" fill="#111" stroke="#111" stroke-width="0.18">TAMR-MCF-7</text>
<rect x="418.20" y="327.60" width="75.60" height="89.90" fill="#fafafa" stroke="#3a3a3a" stroke-width="1.4"/>
<rect x="425.30" y="338.50" width="22.50" height="3.00" rx="3.50" ry="1.50" fill="#2a2a2a" filter="url(#b4)"/>
<rect x="462.30" y="338.30" width="19.70" height="2.40" rx="3.50" ry="1.20" fill="#8c8c8c" filter="url(#b4)"/>
<rect x="425.00" y="353.10" width="22.50" height="1.80" rx="3.50" ry="0.90" fill="#888" filter="url(#b4)"/>
<rect x="459.00" y="352.90" width="26.00" height="1.80" rx="3.50" ry="0.90" fill="#888" filter="url(#b4)"/>
<ellipse cx="446.3" cy="354.6" rx="2" ry="1.4" fill="#222" filter="url(#b4)"/>
<ellipse cx="483.0" cy="354.2" rx="2.2" ry="1.6" fill="#222" filter="url(#b4)"/>
<rect x="423.70" y="355.80" width="26.80" height="4.00" rx="3.50" ry="2.00" fill="#080808" filter="url(#b4)"/>
<rect x="456.80" y="355.40" width="31.50" height="4.20" rx="3.50" ry="2.10" fill="#080808" filter="url(#b4)"/>
<rect x="422.10" y="364.70" width="68.70" height="15.30" fill="#c9c9c9" stroke="none" stroke-width="1" filter="url(#b4)"/>
<rect x="425.5" y="366.5" width="23.5" height="10.5" rx="3" fill="#6e6e6e" filter="url(#b15)"/>
<rect x="426" y="367.0" width="16" height="5" rx="2" fill="#3a3a3a" filter="url(#b15)"/>
<ellipse cx="473.5" cy="371.0" rx="11" ry="1.6" fill="#a8a8a8" filter="url(#b1)"/>
<ellipse cx="473.5" cy="375.0" rx="11" ry="1.4" fill="#b0b0b0" filter="url(#b1)"/>
<rect x="422.10" y="382.00" width="68.70" height="16.50" fill="#ececec" stroke="none" stroke-width="1" filter="url(#b4)"/>
<rect x="426.00" y="386.50" width="23.50" height="2.60" rx="3.50" ry="1.30" fill="#999999" filter="url(#b6)"/>
<rect x="425.50" y="391.50" width="25.00" height="2.80" rx="3.50" ry="1.40" fill="#3a3a3a" filter="url(#b6)"/>
<rect x="426.00" y="395.30" width="23.50" height="1.80" rx="3.50" ry="0.90" fill="#aaaaaa" filter="url(#b6)"/>
<rect x="463.00" y="386.40" width="20.50" height="2.40" rx="3.50" ry="1.20" fill="#a0a0a0" filter="url(#b6)"/>
<rect x="462.50" y="391.50" width="23.00" height="2.80" rx="3.50" ry="1.40" fill="#3a3a3a" filter="url(#b6)"/>
<rect x="463.00" y="395.20" width="21.00" height="1.60" rx="3.50" ry="0.80" fill="#b0b0b0" filter="url(#b6)"/>
<rect x="424.80" y="408.45" width="25.70" height="1.70" rx="3.50" ry="0.85" fill="#1a1a1a" filter="url(#b4)"/>
<path d="M461.5 409.4 Q474 409.3 486.8 408.7" stroke="#1a1a1a" stroke-width="1.7" fill="none" stroke-linecap="round" filter="url(#b4)"/>
<text x="496.60" y="342.69" font-size="7.5" text-anchor="start" font-weight="normal" fill="#111" stroke="#111" stroke-width="0.18">Pin1</text>
<text x="496.60" y="357.79" font-size="7.5" text-anchor="start" font-weight="normal" fill="#111" stroke="#111" stroke-width="0.18">ER&#945;</text>
<text x="496.60" y="372.58" font-size="7.5" text-anchor="start" font-weight="normal" fill="#111" stroke="#111" stroke-width="0.18">P-ERK</text>
<text x="496.60" y="392.29" font-size="7.5" text-anchor="start" font-weight="normal" fill="#111" stroke="#111" stroke-width="0.18">ERK</text>
<text x="496.60" y="409.38" font-size="7.5" text-anchor="start" font-weight="normal" fill="#111" stroke="#111" stroke-width="0.18">Actin</text>
<text x="423.50" y="426.29" font-size="6.4" text-anchor="start" font-weight="normal" fill="#111" stroke="#111" stroke-width="0.12">Con siRNA</text>
<text x="458.30" y="426.29" font-size="6.4" text-anchor="start" font-weight="normal" fill="#111" stroke="#111" stroke-width="0.12">Pin1 siRNA</text>
</svg>
</body></html>
